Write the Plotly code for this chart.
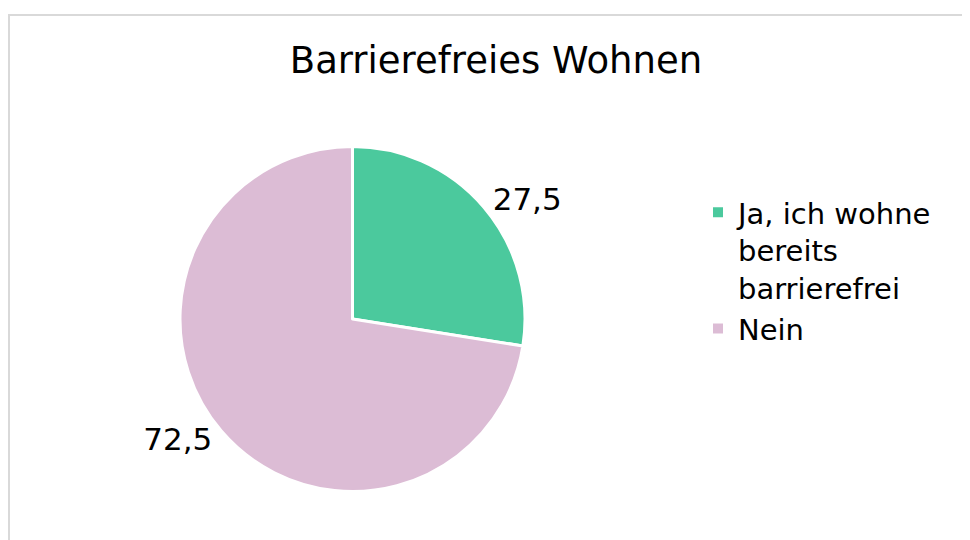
import plotly.graph_objects as go

title_text = "Barrierefreies Wohnen"
categories = ["Ja, ich wohne<br>bereits<br>barrierefrei", "Nein"]
values = [27.5, 72.5]
colors = ["#4BC99D", "#DCBCD5"]

FONT = "DejaVu Sans"

W, H = 970, 540
OFF = 8  # page body margin

fig = go.Figure()
fig.add_trace(go.Pie(
    labels=categories,
    values=values,
    sort=False,
    direction="clockwise",
    rotation=0,
    marker=dict(colors=colors, line=dict(color="white", width=3)),
    textinfo="value",
    textposition="outside",
    textfont=dict(family=FONT, size=31, color="#000000"),
    domain=dict(x=[(180 - OFF) / W, (525 - OFF) / W],
                y=[1 - (492 - OFF) / H, 1 - (146 - OFF) / H]),
    hoverinfo="label+value",
))

fig.update_layout(
    width=W, height=H, autosize=False,
    margin=dict(l=0, r=0, t=0, b=0),
    paper_bgcolor="white",
    separators=",.",
    font=dict(family=FONT, color="#000000"),
    title=dict(text=title_text, x=(496 - OFF) / W, xanchor="center",
               y=1 - (60 - OFF) / H, yanchor="middle",
               xref="paper", yref="paper",
               font=dict(family=FONT, size=37, color="#000000")),
    legend=dict(x=(698 - OFF) / W, xanchor="left", y=1 - (187 - OFF) / H, yanchor="top",
                font=dict(family=FONT, size=29, color="#000000"),
                valign="top", itemsizing="constant"),
    shapes=[dict(type="rect", xref="paper", yref="paper",
                 x0=(9 - OFF) / W, x1=1.05, y0=-0.05, y1=1 - (15 - OFF) / H,
                 line=dict(color="#D9D9D9", width=2), fillcolor="rgba(0,0,0,0)", layer="below")],
)

fig.write_html("out.html")
